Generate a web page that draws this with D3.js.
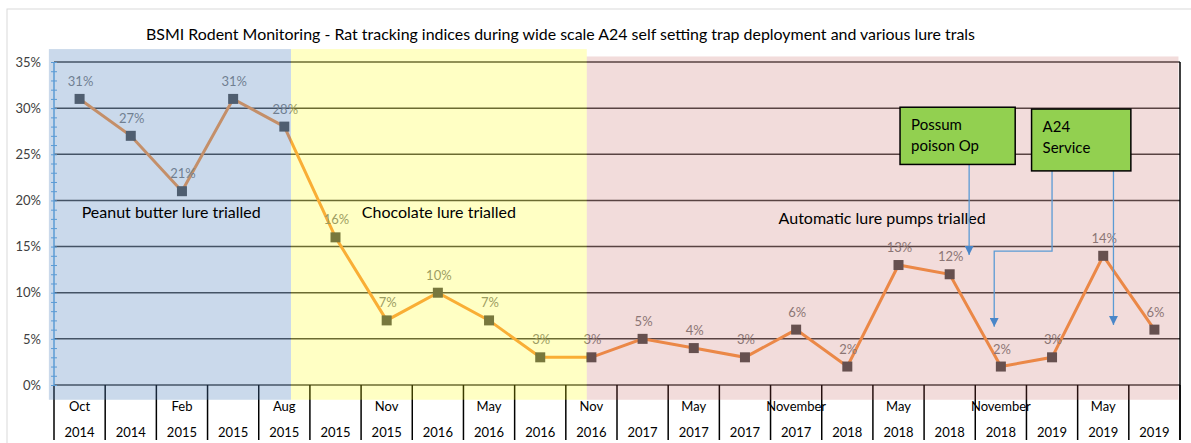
<!DOCTYPE html>
<html>
<head>
<meta charset="utf-8">
<script src="https://cdn.jsdelivr.net/npm/d3@7"></script>
<style>
  body { margin: 0; background: #fff; }
  svg { display: block; font-family: Lato, "Open Sans", sans-serif; }
</style>
</head>
<body>
<div id="container"></div>
<script>
/* DATA */
const months = ["Oct","","Feb","","Aug","","Nov","","May","","Nov","","May","","November","","May","","November","","May",""];
const years = ["2014","2014","2015","2015","2015","2015","2015","2016","2016","2016","2016","2017","2017","2017","2017","2018","2018","2018","2018","2019","2019","2019"];
const values = [0.31,0.27,0.21,0.31,0.28,0.16,0.07,0.10,0.07,0.03,0.03,0.05,0.04,0.03,0.06,0.02,0.13,0.12,0.02,0.03,0.14,0.06];
const yTicks = [0,0.05,0.10,0.15,0.20,0.25,0.30,0.35];

// trial periods (category index ranges)
const trialNames = ["Peanut butter lure trialled","Chocolate lure trialled","Automatic lure pumps trialled"];
const trialStart = [-0.6, 4.13, 9.91];
const trialEnd = [4.13, 9.91, 21.47];

const title = "BSMI Rodent Monitoring - Rat tracking indices during wide scale A24 self setting trap deployment and various lure trals";

/* CONSTANTS */
const width = 1191, height = 443;
const margin = {top:62, bottom:58, left:54, right:11};

const svg = d3.select("#container")
  .append("svg")
  .attr("width", width)
  .attr("height", height);

// Scales
const xBand = d3.scaleBand()
  .domain(d3.range(values.length))
  .range([margin.left, width - margin.right]);
const xi = d3.scaleLinear()
  .domain([-0.5, values.length - 0.5])
  .range([margin.left, width - margin.right]);
const yScale = d3.scaleLinear()
  .domain([0, 0.35])
  .range([height - margin.bottom, margin.top]);
const cx = i => xBand(i) + xBand.bandwidth() / 2;

// outer chart border
svg.append("rect")
  .attr("x", 7).attr("y", 9)
  .attr("width", width).attr("height", height)
  .attr("fill", "none")
  .attr("stroke", "#d9d9d9");

// title
svg.append("text")
  .attr("x", 146)
  .attr("y", 40)
  .attr("textLength", 829)
  .attr("lengthAdjust", "spacingAndGlyphs")
  .style("font-size", "15px")
  .style("fill", "#000")
  .text(title);

// gridlines
svg.append("g")
  .selectAll("line")
  .data(yTicks)
  .join("line")
  .attr("x1", margin.left)
  .attr("x2", width - margin.right)
  .attr("y1", d => yScale(d))
  .attr("y2", d => yScale(d))
  .attr("stroke", "#404040")
  .attr("stroke-width", 1.5);

// x dividers
svg.append("g")
  .selectAll("line")
  .data(d3.range(values.length + 1))
  .join("line")
  .attr("x1", i => xi(i - 0.5))
  .attr("x2", i => xi(i - 0.5))
  .attr("y1", yScale(0))
  .attr("y2", height - 3)
  .attr("stroke", "#000")
  .attr("stroke-width", 1.5);

// line
const lineGen = d3.line()
  .x((d, i) => cx(i))
  .y(d => yScale(d));
svg.append("path")
  .datum(values)
  .attr("fill", "none")
  .attr("stroke", "#f79646")
  .attr("stroke-width", 3)
  .attr("d", lineGen);

// markers
svg.append("g")
  .selectAll("rect")
  .data(values)
  .join("rect")
  .attr("x", (d, i) => cx(i) - 5)
  .attr("y", d => yScale(d) - 5)
  .attr("width", 10)
  .attr("height", 10)
  .attr("fill", "#505050");

// data labels
svg.append("g")
  .selectAll("text")
  .data(values)
  .join("text")
  .attr("x", (d, i) => cx(i) + 1)
  .attr("y", d => yScale(d) - 13)
  .attr("text-anchor", "middle")
  .style("font-size", "13px")
  .style("fill", "#7f7f7f")
  .text(d => d3.format(".0%")(d));

// trial overlays
const bandFill = ["rgba(79,129,189,0.3)", "rgba(255,255,0,0.23)", "rgba(192,80,77,0.2)"];
const bandTop = [0.364, 0.364, 0.356];
svg.append("g")
  .selectAll("rect")
  .data(trialNames)
  .join("rect")
  .attr("x", (d, i) => xi(trialStart[i]))
  .attr("width", (d, i) => xi(trialEnd[i]) - xi(trialStart[i]))
  .attr("y", (d, i) => yScale(bandTop[i]))
  .attr("height", (d, i) => yScale(-0.016) - yScale(bandTop[i]))
  .attr("fill", (d, i) => bandFill[i]);

// y axis labels
const yAxis = d3.axisLeft(yScale)
  .tickValues(yTicks)
  .tickFormat(d3.format(".0%"))
  .tickSize(0)
  .tickPadding(13);
svg.append("g")
  .attr("transform", `translate(${margin.left},0)`)
  .call(yAxis)
  .call(g => g.select(".domain").remove())
  .call(g => g.selectAll("text").style("font-size", "13px").style("fill", "#404040").style("font-family", "Lato, sans-serif"));

// blue y axis with cross ticks
const minorAxis = d3.axisLeft(yScale)
  .tickValues(d3.range(0, 36).map(d => d / 100))
  .tickFormat("")
  .tickSize(6)
  .tickSizeOuter(0);
svg.append("g")
  .attr("transform", `translate(${margin.left + 3},0)`)
  .call(minorAxis)
  .call(g => g.select(".domain").remove())
  .call(g => g.selectAll("line").attr("stroke", "#5b9bd5").attr("stroke-width", 1));
svg.append("line")
  .attr("x1", margin.left).attr("x2", margin.left)
  .attr("y1", yScale(0.35)).attr("y2", yScale(0))
  .attr("stroke", "#5b9bd5")
  .attr("stroke-width", 1.5);

// right border
svg.append("line")
  .attr("x1", width - margin.right).attr("x2", width - margin.right)
  .attr("y1", yScale(0.35)).attr("y2", height - 3)
  .attr("stroke", "#000")
  .attr("stroke-width", 1.5);

// x labels
const xLab = svg.append("g");
xLab.selectAll(".m")
  .data(months)
  .join("text")
  .attr("class", "m")
  .attr("x", (d, i) => cx(i))
  .attr("y", 411)
  .attr("text-anchor", "middle")
  .style("font-size", "13px")
  .style("fill", "#000")
  .text(d => d);
xLab.selectAll(".yr")
  .data(years)
  .join("text")
  .attr("class", "yr")
  .attr("x", (d, i) => cx(i))
  .attr("y", 437)
  .attr("text-anchor", "middle")
  .style("font-size", "13px")
  .style("fill", "#000")
  .text(d => d);

// trial labels
const trialLabX = [1.79, 7.02, 15.68];
const trialLabY = [0.181, 0.181, 0.174];
svg.append("g")
  .selectAll("text")
  .data(trialNames)
  .join("text")
  .attr("x", (d, i) => xi(trialLabX[i]))
  .attr("y", (d, i) => yScale(trialLabY[i]))
  .attr("text-anchor", "middle")
  .style("font-size", "16px")
  .style("fill", "#000")
  .text(d => d);

// arrows
const defs = svg.append("defs");
defs.append("marker")
  .attr("id", "arrow")
  .attr("viewBox", "0 0 10 10")
  .attr("refX", 10).attr("refY", 5)
  .attr("markerWidth", 9).attr("markerHeight", 9)
  .attr("markerUnits", "userSpaceOnUse")
  .attr("orient", "auto")
  .append("path")
  .attr("d", "M0,0 L10,5 L0,10 z")
  .attr("fill", "#4a86c8");

const arrows = [
  [[17.38, 0.239], [17.38, 0.141]],
  [[19.0, 0.232], [19.0, 0.145], [17.87, 0.145], [17.87, 0.063]],
  [[20.2, 0.232], [20.2, 0.065]]
];
const arrowLine = d3.line().x(d => xi(d[0])).y(d => yScale(d[1]));
svg.append("g")
  .selectAll("path")
  .data(arrows)
  .join("path")
  .attr("d", arrowLine)
  .attr("fill", "none")
  .attr("stroke", "#5b9bd5")
  .attr("stroke-width", 1.3)
  .attr("marker-end", "url(#arrow)");

// note boxes
const notes = [["Possum", "poison Op"], ["A24", "Service"]];
const noteX = [[16.03, 18.28], [18.6, 20.54]];
const noteY = [[0.301, 0.239], [0.299, 0.232]];
const nb = svg.append("g")
  .selectAll("g")
  .data(notes)
  .join("g");
nb.append("rect")
  .attr("x", (d, i) => xi(noteX[i][0]))
  .attr("y", (d, i) => yScale(noteY[i][0]))
  .attr("width", (d, i) => xi(noteX[i][1]) - xi(noteX[i][0]))
  .attr("height", (d, i) => yScale(noteY[i][1]) - yScale(noteY[i][0]))
  .attr("fill", "#92d050")
  .attr("stroke", "#000")
  .attr("stroke-width", 1.5);
nb.each(function(d, i) {
  d3.select(this).selectAll("text")
    .data(d)
    .join("text")
    .attr("x", xi(noteX[i][0]) + 11)
    .attr("y", (t, j) => yScale(noteY[i][0]) + 23 + j * 21)
    .style("font-size", "15px")
    .style("fill", "#000")
    .text(t => t);
});
</script>
</body>
</html>
